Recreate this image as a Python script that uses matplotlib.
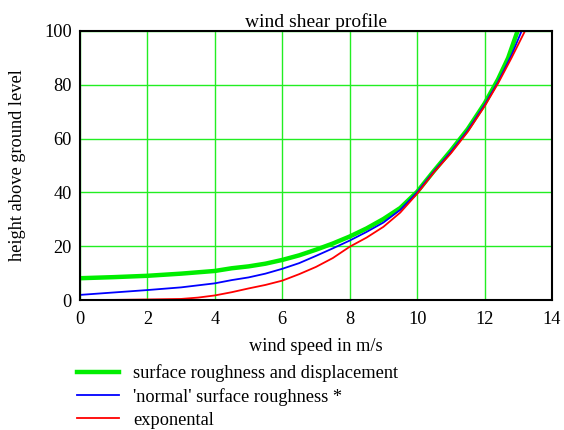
import matplotlib
matplotlib.use('Agg')
from matplotlib import pyplot as plt

plt.rcParams['font.family'] = ['Liberation Serif', 'DejaVu Serif']

# surface roughness and displacement (green)
green_speed = [0, 1, 2, 3, 4, 4.5, 5, 5.5, 6, 6.5, 7, 7.5, 8, 8.5, 9, 9.5,
               10, 10.5, 11, 11.5, 12, 12.4, 12.7, 12.98]
green_height = [8.1, 8.5, 9.0, 9.8, 10.8, 11.8, 12.5, 13.5, 14.9, 16.6, 18.7,
                21.0, 23.6, 26.6, 30.1, 34.2, 40.2, 48.0, 55.5, 63.5, 73.0,
                82.0, 90.0, 100]

# 'normal' surface roughness (blue)
blue_speed = [0, 1, 2, 3, 4, 4.5, 5, 5.5, 6, 6.5, 7, 7.5, 8, 8.5, 9, 9.5,
              10, 10.5, 11, 11.5, 12, 12.4, 12.8, 13.1]
blue_height = [1.9, 2.8, 3.7, 4.7, 6.2, 7.4, 8.4, 9.8, 11.6, 13.7, 16.4, 19.2,
               22.1, 25.3, 28.8, 33.5, 40.0, 47.8, 55.0, 63.0, 72.5, 81.0,
               91.0, 100]

# exponental (red)
red_speed = [0, 1, 2, 3, 3.5, 4, 4.5, 5, 5.5, 6, 6.5, 7, 7.5, 8, 8.5, 9, 9.5,
             10, 10.5, 11, 11.5, 12, 12.4, 12.8, 13.2]
red_height = [0.0, 0.05, 0.2, 0.4, 0.9, 1.7, 2.9, 4.3, 5.6, 7.2, 9.6, 12.3,
              15.6, 19.8, 23.2, 27.2, 32.5, 39.5, 47.5, 54.5, 62.5, 72.0,
              80.5, 90.0, 100]

labels = ['surface roughness and displacement',
          "'normal' surface roughness *",
          'exponental']

fig = plt.figure(figsize=(5.64, 4.30), dpi=100)
ax = fig.add_axes([0.1418, 0.3023, 0.8369, 0.6257])

ax.plot(green_speed, green_height, color='#00ee00', linewidth=3.2, label=labels[0])
ax.plot(blue_speed, blue_height, color='#0000ff', linewidth=1.3, label=labels[1])
ax.plot(red_speed, red_height, color='#ff0000', linewidth=1.3, label=labels[2])

ax.set_xlim(0, 14)
ax.set_ylim(0, 100)
ax.set_xticks(range(0, 15, 2))
ax.set_yticks(range(0, 101, 20))
ax.grid(True, color='#22ee22', linewidth=1.0)
ax.set_axisbelow(True)
ax.tick_params(length=0, labelsize=13.2)
ax.tick_params(axis='x', pad=8)
ax.tick_params(axis='y', pad=6)
for s in ax.spines.values():
    s.set_linewidth(1.5)
    s.set_color('black')

ax.set_title('wind shear profile', fontsize=14, pad=2)
ax.set_xlabel('wind speed in m/s', fontsize=13.2, labelpad=7)
ax.set_ylabel('height above ground level', fontsize=13.2, labelpad=13)

fig.legend(loc='upper left', bbox_to_anchor=(0.137, 0.153), frameon=False,
           fontsize=13.2, handlelength=2.3, handletextpad=0.75,
           labelspacing=0.32, borderpad=0, borderaxespad=0)

fig.savefig('out.png', dpi=100)
